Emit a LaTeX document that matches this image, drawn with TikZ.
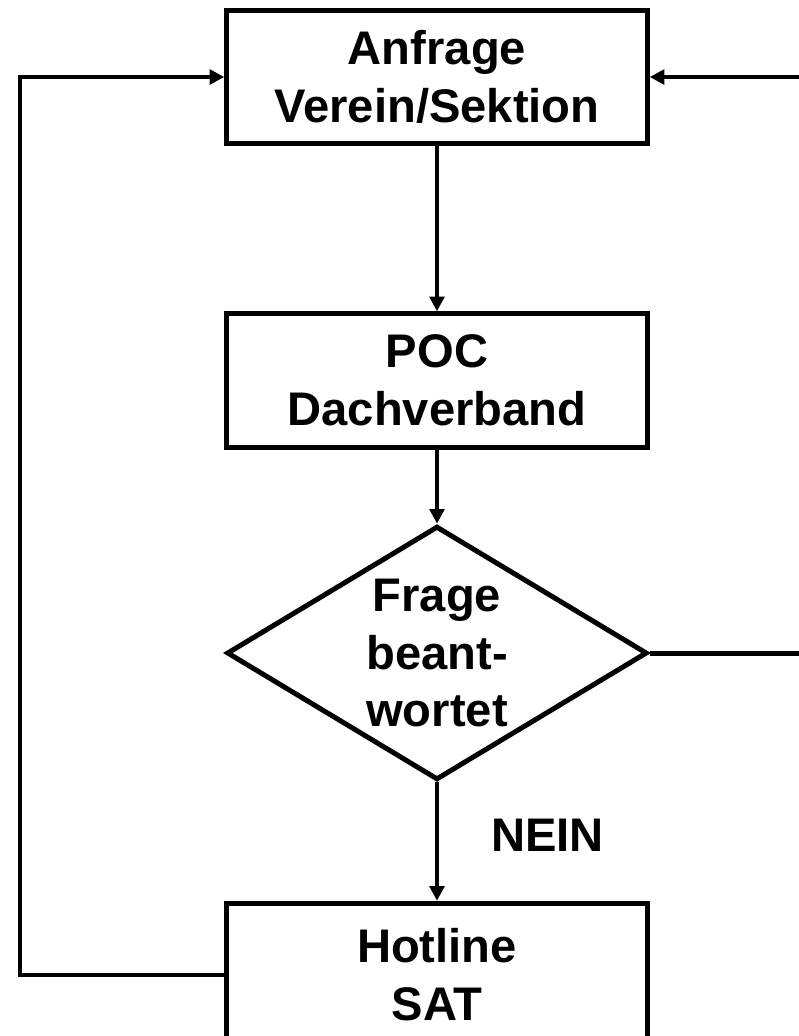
\documentclass[tikz,border=0pt]{standalone}
\usepackage{fontspec}
\setmainfont{Liberation Sans}
\usepackage{tikz}
\usetikzlibrary{arrows.meta,shapes.geometric,positioning}
\tikzset{
    stepbox/.style={
    rectangle,draw=black,line width=3.75pt,minimum width=316.5pt,minimum height=100.5pt,align=center,inner sep=0pt
    },
    question/.style={
    diamond,draw=black,line width=3.75pt,aspect=1.65,minimum width=316.5pt,minimum height=191pt,align=center,inner sep=0pt
    },
    line/.style={draw, line width=3.75pt, -{Triangle[length=11pt,width=11pt]}},
}

\begin{document}
\begin{tikzpicture}[font=\fontsize{35.5}{43.5}\selectfont\bfseries]
   \useasboundingbox (0,0) rectangle (21.114,27.411);

   \node[stepbox]  (anfrage) at (11.562,25.373) {Anfrage\\Verein/Sektion};
   \node[stepbox]  (poc)     at (11.562,17.343) {POC\\Dachverband};
   \node[question] (frage)   at (11.562,10.133) {Frage\\beant-\\wortet};
   \node[stepbox, minimum height=108pt] (hotline) at (11.562, 1.614) {Hotline\\SAT};

   \coordinate (loopL) at (0.529,0);
   \coordinate (loopR) at (21.5,0);

  \path[line]
    (anfrage) edge (poc)
    (poc)     edge (frage)
    (frage)   edge node[anchor=west, xshift=39pt, yshift=5pt, inner sep=0pt] {NEIN} (hotline);

  % back to the start
  \draw[line] (hotline.west) -- (loopL |- hotline.west) -- (loopL |- anfrage.west) -- (anfrage.west);
  \draw[line] (frage.east) -- (loopR |- frage.east) -- (loopR |- anfrage.east) -- (anfrage.east);
\end{tikzpicture}
\end{document}
